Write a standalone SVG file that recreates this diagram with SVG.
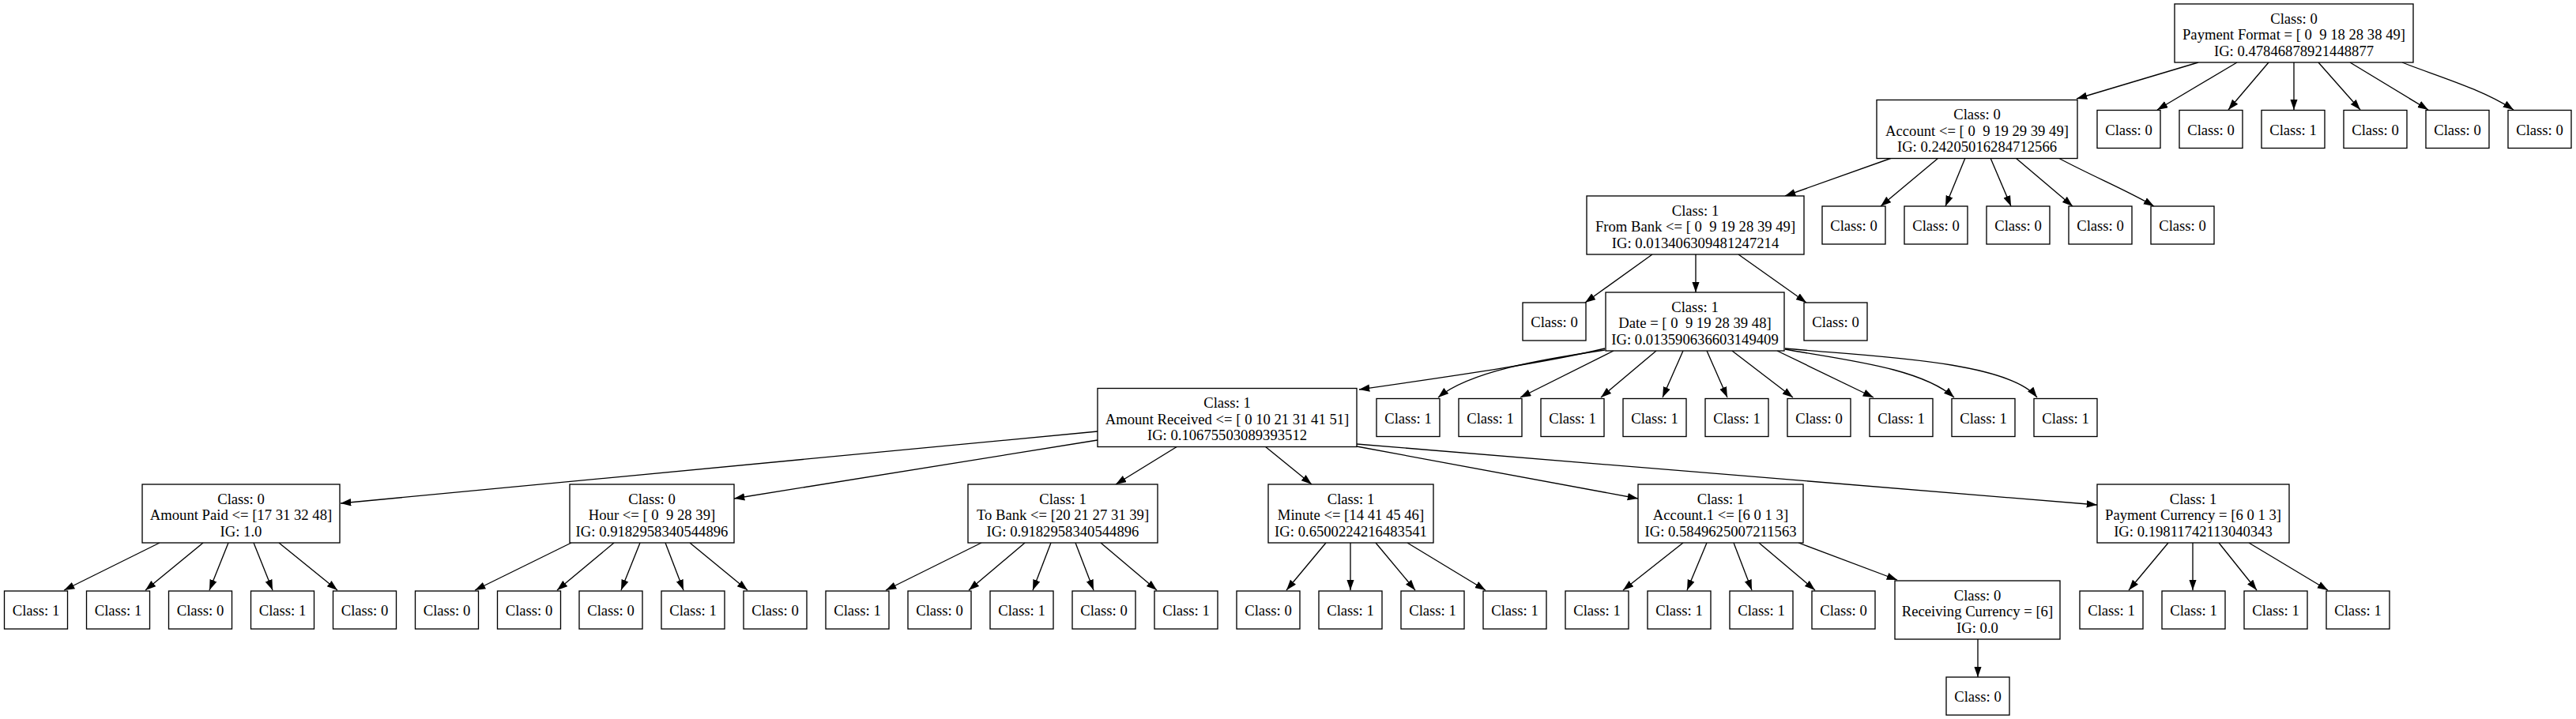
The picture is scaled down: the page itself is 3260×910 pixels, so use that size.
<svg xmlns="http://www.w3.org/2000/svg" width="3260" height="910" viewBox="0 0 3260 910" xml:space="preserve">
<style>
rect.b{fill:#fff;stroke:#000;stroke-width:1.33}
text{font-family:"Liberation Serif","Times New Roman",serif;font-size:18.67px;text-anchor:middle;fill:#000;white-space:pre}
#edges path{fill:none;stroke:#000;stroke-width:1.33;marker-end:url(#ah)}
</style>
<defs>
<marker id="ah" markerUnits="userSpaceOnUse" viewBox="0 0 14 10" markerWidth="14" markerHeight="10" refX="13.3" refY="4.67" orient="auto"><path d="M0,0 L13.3,4.67 L0,9.33 z" fill="#000"/></marker>
</defs>
<rect x="0" y="0" width="3260" height="910" fill="#fff"/>
<g id="edges">
<path d="M2782,79 L2628,125"/>
<path d="M2831,79 L2730,139"/>
<path d="M2871,79 L2820,139"/>
<path d="M2903,79 L2903,139"/>
<path d="M2934,79 L2987,139"/>
<path d="M2974,79 L3073,139"/>
<path d="M3040,79 C3080,95 3140,112 3181,139"/>
<path d="M2394,200 L2259,248"/>
<path d="M2453,200 L2380,261"/>
<path d="M2487,200 L2462,261"/>
<path d="M2519,200 L2545,261"/>
<path d="M2551,200 L2623,261"/>
<path d="M2605,200 C2650,224 2690,240 2726,261"/>
<path d="M2091,322 L2006,383"/>
<path d="M2146,322 L2146,370"/>
<path d="M2200,322 L2286,383"/>
<path d="M2031,441 C1960,458 1860,473 1720,493"/>
<path d="M2031,443 C1950,455 1860,470 1820,503"/>
<path d="M2042,444 L1924,503"/>
<path d="M2096,444 L2026,503"/>
<path d="M2130,444 L2104,503"/>
<path d="M2160,444 L2186,503"/>
<path d="M2192,444 L2269,503"/>
<path d="M2249,444 L2371,503"/>
<path d="M2259,442 C2330,455 2430,465 2473,503"/>
<path d="M2259,441 C2350,450 2540,455 2578,503"/>
<path d="M1389,546 L431,637"/>
<path d="M1389,557 L929,631"/>
<path d="M1490,565 L1412,613"/>
<path d="M1601,565 L1660,613"/>
<path d="M1717,565 L2073,631"/>
<path d="M1717,562 L2654,639"/>
<path d="M202,687 L81,747"/>
<path d="M257,687 L184,747"/>
<path d="M289,687 L265,747"/>
<path d="M321,687 L345,747"/>
<path d="M353,687 L427,747"/>
<path d="M723,687 L601,747"/>
<path d="M777,687 L705,747"/>
<path d="M810,687 L786,747"/>
<path d="M842,687 L865,747"/>
<path d="M873,687 L946,747"/>
<path d="M1242,687 L1121,747"/>
<path d="M1297,687 L1226,747"/>
<path d="M1330,687 L1307,747"/>
<path d="M1361,687 L1384,747"/>
<path d="M1393,687 L1464,747"/>
<path d="M1678,687 L1628,747"/>
<path d="M1709,687 L1709,747"/>
<path d="M1741,687 L1791,747"/>
<path d="M1781,687 L1880,747"/>
<path d="M2130,687 L2054,747"/>
<path d="M2160,687 L2135,747"/>
<path d="M2194,687 L2217,747"/>
<path d="M2226,687 L2297,747"/>
<path d="M2276,687 L2401,734"/>
<path d="M2744,687 L2694,747"/>
<path d="M2775,687 L2775,747"/>
<path d="M2808,687 L2856,747"/>
<path d="M2846,687 L2946,747"/>
<path d="M2503,809 L2503,857"/>
</g>
<g id="n_root"><rect class="b" x="2752" y="5" width="302" height="74"/><text x="2903" y="29.5">Class: 0</text><text x="2903" y="50">Payment Format = [ 0  9 18 28 38 49]</text><text x="2903" y="70.5">IG: 0.47846878921448877</text></g>
<g id="n_account"><rect class="b" x="2375" y="126.5" width="254" height="74"/><text x="2502" y="151">Class: 0</text><text x="2502" y="171.5">Account &lt;= [ 0  9 19 29 39 49]</text><text x="2502" y="192">IG: 0.24205016284712566</text></g>
<g id="n_l1a"><rect class="b" x="2654" y="139.5" width="80" height="48"/><text x="2694" y="170.5">Class: 0</text></g>
<g id="n_l1b"><rect class="b" x="2758" y="139.5" width="80" height="48"/><text x="2798" y="170.5">Class: 0</text></g>
<g id="n_l1c"><rect class="b" x="2862" y="139.5" width="80" height="48"/><text x="2902" y="170.5">Class: 1</text></g>
<g id="n_l1d"><rect class="b" x="2966" y="139.5" width="80" height="48"/><text x="3006" y="170.5">Class: 0</text></g>
<g id="n_l1e"><rect class="b" x="3070" y="139.5" width="80" height="48"/><text x="3110" y="170.5">Class: 0</text></g>
<g id="n_l1f"><rect class="b" x="3174" y="139.5" width="80" height="48"/><text x="3214" y="170.5">Class: 0</text></g>
<g id="n_frombank"><rect class="b" x="2008" y="248" width="275" height="74"/><text x="2145.5" y="272.5">Class: 1</text><text x="2145.5" y="293">From Bank &lt;= [ 0  9 19 28 39 49]</text><text x="2145.5" y="313.5">IG: 0.013406309481247214</text></g>
<g id="n_l2a"><rect class="b" x="2306" y="261" width="80" height="48"/><text x="2346" y="292">Class: 0</text></g>
<g id="n_l2b"><rect class="b" x="2410" y="261" width="80" height="48"/><text x="2450" y="292">Class: 0</text></g>
<g id="n_l2c"><rect class="b" x="2514" y="261" width="80" height="48"/><text x="2554" y="292">Class: 0</text></g>
<g id="n_l2d"><rect class="b" x="2618" y="261" width="80" height="48"/><text x="2658" y="292">Class: 0</text></g>
<g id="n_l2e"><rect class="b" x="2722" y="261" width="80" height="48"/><text x="2762" y="292">Class: 0</text></g>
<g id="n_l3a"><rect class="b" x="1927" y="383" width="80" height="48"/><text x="1967" y="414">Class: 0</text></g>
<g id="n_date"><rect class="b" x="2032" y="370" width="226" height="74"/><text x="2145" y="394.5">Class: 1</text><text x="2145" y="415">Date = [ 0  9 19 28 39 48]</text><text x="2145" y="435.5">IG: 0.013590636603149409</text></g>
<g id="n_l3b"><rect class="b" x="2283" y="383" width="80" height="48"/><text x="2323" y="414">Class: 0</text></g>
<g id="n_amtrec"><rect class="b" x="1389" y="491.5" width="328" height="74"/><text x="1553" y="516">Class: 1</text><text x="1553" y="536.5">Amount Received &lt;= [ 0 10 21 31 41 51]</text><text x="1553" y="557">IG: 0.10675503089393512</text></g>
<g id="n_l4a"><rect class="b" x="1742" y="504.5" width="80" height="48"/><text x="1782" y="535.5">Class: 1</text></g>
<g id="n_l4b"><rect class="b" x="1846" y="504.5" width="80" height="48"/><text x="1886" y="535.5">Class: 1</text></g>
<g id="n_l4c"><rect class="b" x="1950" y="504.5" width="80" height="48"/><text x="1990" y="535.5">Class: 1</text></g>
<g id="n_l4d"><rect class="b" x="2054" y="504.5" width="80" height="48"/><text x="2094" y="535.5">Class: 1</text></g>
<g id="n_l4e"><rect class="b" x="2158" y="504.5" width="80" height="48"/><text x="2198" y="535.5">Class: 1</text></g>
<g id="n_l4f"><rect class="b" x="2262" y="504.5" width="80" height="48"/><text x="2302" y="535.5">Class: 0</text></g>
<g id="n_l4g"><rect class="b" x="2366" y="504.5" width="80" height="48"/><text x="2406" y="535.5">Class: 1</text></g>
<g id="n_l4h"><rect class="b" x="2470" y="504.5" width="80" height="48"/><text x="2510" y="535.5">Class: 1</text></g>
<g id="n_l4i"><rect class="b" x="2574" y="504.5" width="80" height="48"/><text x="2614" y="535.5">Class: 1</text></g>
<g id="n_amtpaid"><rect class="b" x="180" y="613" width="250" height="74"/><text x="305" y="637.5">Class: 0</text><text x="305" y="658">Amount Paid &lt;= [17 31 32 48]</text><text x="305" y="678.5">IG: 1.0</text></g>
<g id="n_hour"><rect class="b" x="721" y="613" width="208" height="74"/><text x="825" y="637.5">Class: 0</text><text x="825" y="658">Hour &lt;= [ 0  9 28 39]</text><text x="825" y="678.5">IG: 0.9182958340544896</text></g>
<g id="n_tobank"><rect class="b" x="1225" y="613" width="240" height="74"/><text x="1345" y="637.5">Class: 1</text><text x="1345" y="658">To Bank &lt;= [20 21 27 31 39]</text><text x="1345" y="678.5">IG: 0.9182958340544896</text></g>
<g id="n_minute"><rect class="b" x="1605" y="613" width="209" height="74"/><text x="1709.5" y="637.5">Class: 1</text><text x="1709.5" y="658">Minute &lt;= [14 41 45 46]</text><text x="1709.5" y="678.5">IG: 0.6500224216483541</text></g>
<g id="n_account1"><rect class="b" x="2073" y="613" width="209" height="74"/><text x="2177.5" y="637.5">Class: 1</text><text x="2177.5" y="658">Account.1 &lt;= [6 0 1 3]</text><text x="2177.5" y="678.5">IG: 0.5849625007211563</text></g>
<g id="n_paycur"><rect class="b" x="2654" y="613" width="243" height="74"/><text x="2775.5" y="637.5">Class: 1</text><text x="2775.5" y="658">Payment Currency = [6 0 1 3]</text><text x="2775.5" y="678.5">IG: 0.19811742113040343</text></g>
<g id="n_l6_0"><rect class="b" x="5.5" y="748" width="80" height="48"/><text x="45.5" y="779">Class: 1</text></g>
<g id="n_l6_1"><rect class="b" x="109.5" y="748" width="80" height="48"/><text x="149.5" y="779">Class: 1</text></g>
<g id="n_l6_2"><rect class="b" x="213.5" y="748" width="80" height="48"/><text x="253.5" y="779">Class: 0</text></g>
<g id="n_l6_3"><rect class="b" x="317.5" y="748" width="80" height="48"/><text x="357.5" y="779">Class: 1</text></g>
<g id="n_l6_4"><rect class="b" x="421.5" y="748" width="80" height="48"/><text x="461.5" y="779">Class: 0</text></g>
<g id="n_l6_5"><rect class="b" x="525.5" y="748" width="80" height="48"/><text x="565.5" y="779">Class: 0</text></g>
<g id="n_l6_6"><rect class="b" x="629.5" y="748" width="80" height="48"/><text x="669.5" y="779">Class: 0</text></g>
<g id="n_l6_7"><rect class="b" x="733" y="748" width="80" height="48"/><text x="773" y="779">Class: 0</text></g>
<g id="n_l6_8"><rect class="b" x="837" y="748" width="80" height="48"/><text x="877" y="779">Class: 1</text></g>
<g id="n_l6_9"><rect class="b" x="941" y="748" width="80" height="48"/><text x="981" y="779">Class: 0</text></g>
<g id="n_l6_10"><rect class="b" x="1045" y="748" width="80" height="48"/><text x="1085" y="779">Class: 1</text></g>
<g id="n_l6_11"><rect class="b" x="1149" y="748" width="80" height="48"/><text x="1189" y="779">Class: 0</text></g>
<g id="n_l6_12"><rect class="b" x="1253" y="748" width="80" height="48"/><text x="1293" y="779">Class: 1</text></g>
<g id="n_l6_13"><rect class="b" x="1357" y="748" width="80" height="48"/><text x="1397" y="779">Class: 0</text></g>
<g id="n_l6_14"><rect class="b" x="1461" y="748" width="80" height="48"/><text x="1501" y="779">Class: 1</text></g>
<g id="n_l6_15"><rect class="b" x="1565" y="748" width="80" height="48"/><text x="1605" y="779">Class: 0</text></g>
<g id="n_l6_16"><rect class="b" x="1669" y="748" width="80" height="48"/><text x="1709" y="779">Class: 1</text></g>
<g id="n_l6_17"><rect class="b" x="1773" y="748" width="80" height="48"/><text x="1813" y="779">Class: 1</text></g>
<g id="n_l6_18"><rect class="b" x="1877" y="748" width="80" height="48"/><text x="1917" y="779">Class: 1</text></g>
<g id="n_l6_19"><rect class="b" x="1981" y="748" width="80" height="48"/><text x="2021" y="779">Class: 1</text></g>
<g id="n_l6_20"><rect class="b" x="2085" y="748" width="80" height="48"/><text x="2125" y="779">Class: 1</text></g>
<g id="n_l6_21"><rect class="b" x="2189" y="748" width="80" height="48"/><text x="2229" y="779">Class: 1</text></g>
<g id="n_l6_22"><rect class="b" x="2293" y="748" width="80" height="48"/><text x="2333" y="779">Class: 0</text></g>
<g id="n_reccur"><rect class="b" x="2398" y="735" width="209" height="74"/><text x="2502.5" y="759.5">Class: 0</text><text x="2502.5" y="780">Receiving Currency = [6]</text><text x="2502.5" y="800.5">IG: 0.0</text></g>
<g id="n_l6_23"><rect class="b" x="2632" y="748" width="80" height="48"/><text x="2672" y="779">Class: 1</text></g>
<g id="n_l6_24"><rect class="b" x="2736" y="748" width="80" height="48"/><text x="2776" y="779">Class: 1</text></g>
<g id="n_l6_25"><rect class="b" x="2840" y="748" width="80" height="48"/><text x="2880" y="779">Class: 1</text></g>
<g id="n_l6_26"><rect class="b" x="2944" y="748" width="80" height="48"/><text x="2984" y="779">Class: 1</text></g>
<g id="n_l7"><rect class="b" x="2463" y="857" width="80" height="48"/><text x="2503" y="888">Class: 0</text></g>
</svg>
